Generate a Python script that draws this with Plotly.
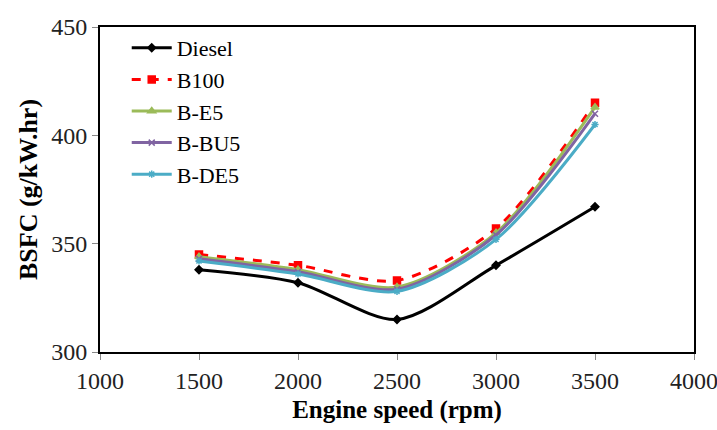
import plotly.graph_objects as go

speed = [1500, 2000, 2500, 3000, 3500]
diesel = [338, 332, 315, 340, 367]
b100 = [345, 340, 333, 357, 415]
be5 = [344, 338, 330, 355, 413]
bbu5 = [343, 337, 329, 354, 410]
bde5 = [342, 336, 328, 352, 405]

series = [
    ("Diesel", diesel, "#000000", "solid", "diamond", 6),
    ("B100", b100, "#FF0000", "dash", "square", 7),
    ("B-E5", be5, "#9BBB59", "solid", "triangle-up", 7),
    ("B-BU5", bbu5, "#8064A2", "solid", "x-thin", 6),
    ("B-DE5", bde5, "#4BACC6", "solid", "asterisk", 6),
]

fig = go.Figure()
for name, vals, col, dash, sym, ms in series:
    fig.add_trace(go.Scatter(
        x=speed, y=vals, name=name, mode="lines+markers",
        line=dict(color=col, width=3, dash=dash, shape="spline", smoothing=0.8),
        marker=dict(symbol=sym, size=ms, color=col, line=dict(color=col, width=1.5)),
    ))

font = "Liberation Serif"
fig.update_layout(
    width=717, height=430,
    margin=dict(l=100, r=23, t=27, b=78),
    plot_bgcolor="white", paper_bgcolor="white",
    font=dict(family=font, size=24, color="#222222"),
    showlegend=True,
    legend=dict(x=0.045, y=1.0, xanchor="left", yanchor="top",
                bgcolor="rgba(0,0,0,0)", font=dict(family=font, size=22, color="black"),
                tracegroupgap=0, itemwidth=40),
)
fig.update_xaxes(
    range=[1000, 4000], dtick=500, tick0=1000,
    showline=True, linecolor="black", linewidth=2, mirror=True,
    ticks="outside", ticklen=6, tickcolor="#888888",
    tickfont=dict(family=font, size=24, color="#222222"),
    ticklabeloverflow="allow", automargin=False,
    showgrid=False, zeroline=False,
    title=dict(text="<b>Engine speed (rpm)</b>", font=dict(family=font, size=25, color="black"), standoff=8),
)
fig.update_yaxes(
    range=[300, 450], dtick=50,
    showline=True, linecolor="black", linewidth=2, mirror=True,
    ticks="outside", ticklen=6, tickcolor="#888888",
    tickfont=dict(family=font, size=24, color="#222222"),
    automargin=False,
    showgrid=False, zeroline=False,
    title=dict(text="<b>BSFC (g/kW.hr)</b>", font=dict(family=font, size=26, color="black"), standoff=6),
)
fig.write_html("out.html")
